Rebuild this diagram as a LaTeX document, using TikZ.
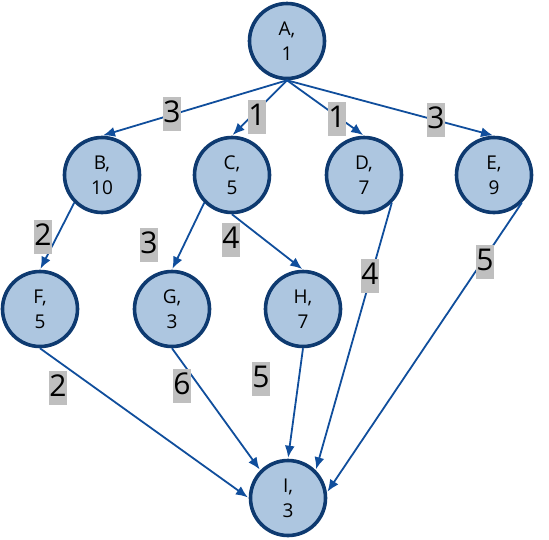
\documentclass[tikz,border=0pt]{standalone}
\usepackage{fontspec}
\setmainfont{Open Sans}
\usetikzlibrary{arrows.meta}

\definecolor{taskfill}{RGB}{173,198,224}
\definecolor{taskborder}{RGB}{14,58,112}
\definecolor{linkblue}{RGB}{16,78,156}

\begin{document}
\begin{tikzpicture}[
    x=1pt, y=-1pt,
    % Define styles for consistent formatting
    task/.style={circle, fill=taskfill, draw=taskborder, line width=3.6pt,
        minimum size=75pt, inner sep=0pt, align=center,
        font=\fontsize{19}{25}\selectfont, text=black},
    link/.style={draw=linkblue, line width=1.8pt, shorten >=1pt,
        -{Latex[length=12pt,width=10pt]}},
    weight/.style={fill=gray!50, inner xsep=0pt, inner ysep=0pt,
        text height=25pt, text depth=9pt, font=\fontsize{30}{30}\selectfont}
]

% Fix the margins
\useasboundingbox (0,0) rectangle (549,539);

% Tasks with durations
\foreach \name/\x/\y/\dur in {
    A/287/41/1, B/102/175/10, C/232/175/5, D/364/175/7, E/494/175/9,
    F/40/309/5, G/172/309/3, H/303/309/7, I/288/498/3} {
    \node [task] (\name) at (\x,\y) {\name,\\\dur};
}

% Precedence links
\foreach \from/\to in {
    A.south/B.north, A.south/C.north, A.south/D.north, A.south/E.north,
    B.south west/F.north, C.south west/G.north, C.south/H.north,
    D.south east/I.north east, E.south east/I.8,
    F.south/I.west, G.south/I.north west, H.south/I.north} {
    \draw [link] (\from) -- (\to);
}

% Link weights
\foreach \name/\x/\y/\w in {
    wab/172/114/3, wac/257/117/1, wad/337/119/1, wae/436/120/3,
    wbf/43/237/2, wcg/149/245/3, wch/231/240/4,
    wdi/370/276/4, wei/485/262/5,
    wfi/58/388/2, wgi/182/386/6, whi/261/379/5} {
    \node [weight] (\name) at (\x,\y) {\w};
}

\end{tikzpicture}
\end{document}
